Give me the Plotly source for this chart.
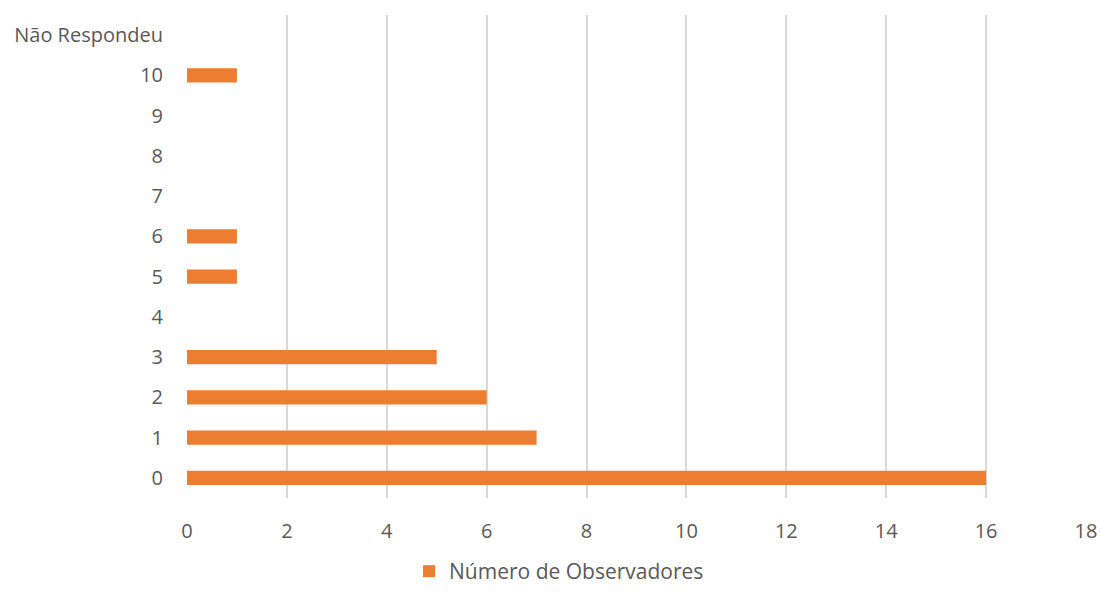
import plotly.graph_objects as go

categorias = ["0", "1", "2", "3", "4", "5", "6", "7", "8", "9", "10", "Não Respondeu"]
observadores = [16, 7, 6, 5, 0, 1, 1, 0, 0, 0, 1, 0]
x_ticks = list(range(0, 19, 2))

fig = go.Figure()
fig.add_trace(go.Bar(
    y=categorias,
    x=observadores,
    orientation="h",
    name="Número de Observadores",
    marker=dict(color="#ED7D31", line=dict(width=0)),
    width=0.35,
))

fig.update_layout(
    width=1101,
    height=592,
    margin=dict(l=187, r=15, t=15, b=94, autoexpand=False),
    paper_bgcolor="white",
    plot_bgcolor="white",
    font=dict(family="Open Sans", size=20, color="#595959"),
    showlegend=True,
    legend=dict(
        orientation="h",
        x=0.247, xanchor="left",
        y=-0.1946, yanchor="bottom",
        font=dict(size=21, color="#595959"),
        itemwidth=30,
    ),
    xaxis=dict(
        range=[0, 18],
        tickvals=x_ticks,
        showgrid=True,
        gridcolor="#d9d9d9",
        gridwidth=1.5,
        zeroline=False,
        showline=False,
        ticks="",
        automargin=False,
        ticklabelstandoff=19,
    ),
    yaxis=dict(
        type="category",
        categoryorder="array",
        categoryarray=categorias,
        showgrid=False,
        zeroline=False,
        showline=False,
        ticks="",
        automargin=False,
        ticklabelstandoff=23,
    ),
)

fig.write_html("out.html")
